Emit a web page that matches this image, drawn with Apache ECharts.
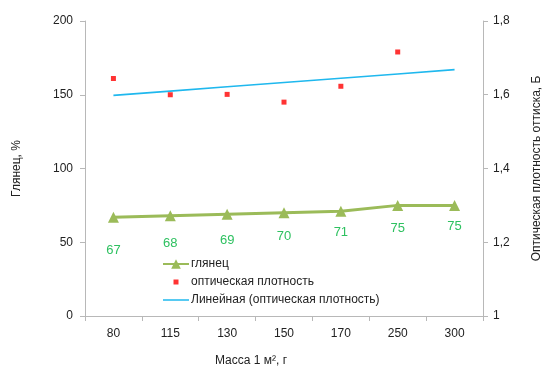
<!DOCTYPE html>
<html>
<head>
<meta charset="utf-8">
<script src="https://cdn.jsdelivr.net/npm/echarts@6/dist/echarts.min.js"></script>
<style>
  html, body { margin: 0; padding: 0; background: #fff; }
  #chart { width: 551px; height: 372px; }
</style>
</head>
<body>
<div id="chart"></div>
<script>
// Paper mass, g per square metre
const categories = ['80', '115', '130', '150', '170', '250', '300'];
// Gloss, %
const gloss = [67, 68, 69, 70, 71, 75, 75];
// Optical print density, B (no measurement for 300 g)
const density = [1.644, 1.600, 1.601, 1.580, 1.623, 1.716, null];
const leftTicks = [0, 50, 100, 150, 200];
const rightTicks = [1, 1.2, 1.4, 1.6, 1.8];

// Least-squares linear trend of density over category position (1..n)
function linearTrend(values, n) {
  const pts = values.map((v, i) => [i + 1, v]).filter(p => p[1] != null);
  const mx = pts.reduce((s, p) => s + p[0], 0) / pts.length;
  const my = pts.reduce((s, p) => s + p[1], 0) / pts.length;
  let sxy = 0, sxx = 0;
  pts.forEach(p => { sxy += (p[0] - mx) * (p[1] - my); sxx += (p[0] - mx) ** 2; });
  const k = sxy / sxx, b = my - k * mx;
  return Array.from({ length: n }, (_, i) => k * (i + 1) + b);
}
const trend = linearTrend(density, categories.length);

// per-point distance of the gloss value labels below the markers
const labelGap = [21, 16, 14, 12, 9, 11, 9];

const font = 'Liberation Sans, Arial, sans-serif';
const axisColor = '#b8b8b8';
const textColor = '#222';

const chart = echarts.init(document.getElementById('chart'));
chart.setOption({
  animation: false,
  textStyle: { fontFamily: font },
  grid: { left: 85, right: 61, top: 21, bottom: 54 },
  legend: {
    orient: 'vertical',
    left: 157,
    top: 253,
    itemWidth: 26,
    itemHeight: 12,
    itemGap: 6,
    textStyle: { fontSize: 12, color: textColor, fontFamily: font, padding: [0, 0, 0, -3] },
    data: [
      { name: 'глянец' },
      // small square marker centred in the icon box
      { name: 'оптическая плотность', icon: 'path://M0,0M26,12M10.5,3.5h5v5h-5z' },
      // plain thin line
      { name: 'Линейная (оптическая плотность)', icon: 'path://M0,0M26,12M0,5.25h26v1.5h-26z' }
    ]
  },
  xAxis: {
    type: 'category',
    data: categories,
    boundaryGap: true,
    name: 'Масса 1 м², г',
    nameLocation: 'middle',
    nameGap: 39,
    nameTextStyle: { fontSize: 12, color: textColor, padding: [0, 66, 0, 0] },
    axisLine: { lineStyle: { color: axisColor } },
    axisTick: { show: true, alignWithLabel: false, length: 5, lineStyle: { color: axisColor } },
    axisLabel: { fontSize: 12, color: textColor, margin: 12 }
  },
  yAxis: [
    {
      type: 'value',
      min: leftTicks[0],
      max: leftTicks[leftTicks.length - 1],
      interval: 50,
      name: 'Глянец, %',
      nameLocation: 'middle',
      nameGap: 62,
      nameTextStyle: { fontSize: 12, color: textColor },
      axisLine: { show: true, lineStyle: { color: axisColor } },
      axisTick: { show: true, length: 5, lineStyle: { color: axisColor } },
      axisLabel: { fontSize: 12, color: textColor, margin: 12 },
      splitLine: { show: false }
    },
    {
      type: 'value',
      position: 'right',
      min: rightTicks[0],
      max: rightTicks[rightTicks.length - 1],
      interval: 0.2,
      name: 'Оптическая плотность оттиска, Б',
      nameLocation: 'middle',
      nameGap: 48,
      nameRotate: 90,
      nameTextStyle: { fontSize: 12, color: textColor },
      axisLine: { show: true, lineStyle: { color: axisColor } },
      axisTick: { show: true, length: 5, lineStyle: { color: axisColor } },
      axisLabel: {
        fontSize: 12, color: textColor, margin: 10,
        formatter: v => String(Math.round(v * 10) / 10).replace('.', ',')
      },
      splitLine: { show: false }
    }
  ],
  series: [
    {
      name: 'Линейная (оптическая плотность)',
      type: 'line',
      yAxisIndex: 1,
      data: trend,
      symbol: 'none',
      lineStyle: { color: '#1fb8ee', width: 1.6 },
      itemStyle: { color: '#1fb8ee' },
      z: 2
    },
    {
      name: 'глянец',
      type: 'line',
      yAxisIndex: 0,
      data: gloss.map((v, i) => ({
        value: v,
        label: { distance: labelGap[i] }
      })),
      symbol: 'triangle',
      symbolSize: 11,
      lineStyle: { color: '#9bbb59', width: 3 },
      itemStyle: { color: '#9bbb59' },
      label: {
        show: true,
        position: 'bottom',
        color: '#2ec160',
        fontSize: 13,
        fontFamily: font
      },
      z: 3
    },
    {
      name: 'оптическая плотность',
      type: 'scatter',
      yAxisIndex: 1,
      data: density,
      symbol: 'rect',
      symbolSize: 5,
      itemStyle: { color: '#ff0000' },
      z: 4
    }
  ]
});
</script>
</body>
</html>
